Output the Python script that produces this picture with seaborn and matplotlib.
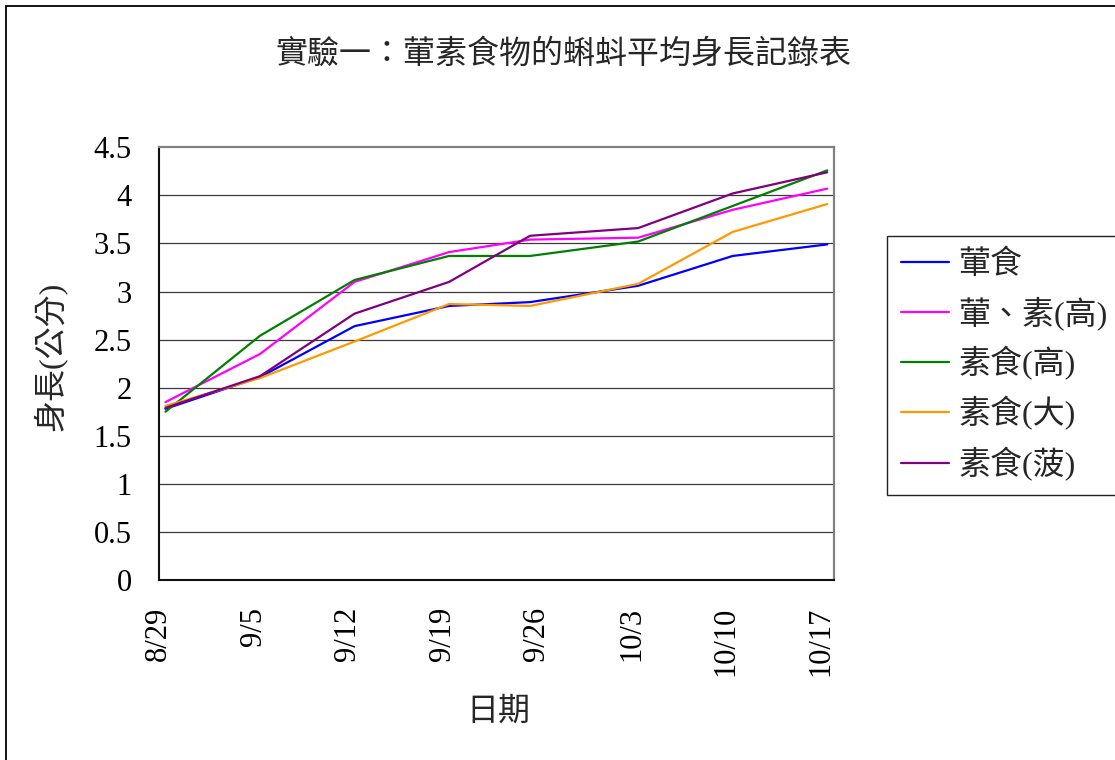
import numpy as np
import pandas as pd
import matplotlib
matplotlib.use("Agg")
import matplotlib.pyplot as plt
from matplotlib.lines import Line2D
from matplotlib.patches import Rectangle
import seaborn as sns

# ---- data ----
dates = ["2009-08-29", "2009-09-05", "2009-09-12", "2009-09-19",
         "2009-09-25", "2009-10-03", "2009-10-10", "2009-10-17"]
tick_dates = ["2009-08-29", "2009-09-05", "2009-09-12", "2009-09-19",
              "2009-09-26", "2009-10-03", "2009-10-10", "2009-10-17"]
tick_labels = ["8/29", "9/5", "9/12", "9/19", "9/26", "10/3", "10/10", "10/17"]

series_names = ["葷食", "葷、素(高)", "素食(高)", "素食(大)", "素食(菠)"]
meat = [1.78, 2.11, 2.64, 2.85, 2.89, 3.06, 3.37, 3.49]
mixed_high = [1.85, 2.35, 3.10, 3.41, 3.54, 3.56, 3.85, 4.07]
veg_high = [1.75, 2.54, 3.12, 3.37, 3.37, 3.52, 3.89, 4.26]
veg_big = [1.81, 2.10, 2.48, 2.87, 2.85, 3.08, 3.62, 3.91]
veg_spinach = [1.79, 2.12, 2.77, 3.10, 3.58, 3.66, 4.02, 4.24]
colors = ["#0000FF", "#FF00FF", "#008000", "#FF9900", "#800080"]

title = "實驗一：葷素食物的蝌蚪平均身長記錄表"
xlabel = "日期"
ylabel = "身長(公分)"

# ---- build table ----
all_vals = [meat, mixed_high, veg_high, veg_big, veg_spinach]
x_dt = pd.to_datetime(dates) + pd.Timedelta(hours=12)  # Excel date axis: point at middle of day
rows = []
for name, vals in zip(series_names, all_vals):
    for d, v in zip(x_dt, vals):
        rows.append({"date": d, "series": name, "value": v})
df = pd.DataFrame(rows)

sns.set_style("white")
plt.rcParams["font.family"] = ["Liberation Serif", "Noto Sans CJK TC", "DejaVu Sans"]
plt.rcParams["axes.unicode_minus"] = False

W, H = 1115, 760
fig = plt.figure(figsize=(W / 100, H / 100), dpi=100)
L, R, T, B = 158.7, 834, 147.3, 580
ax = fig.add_axes([L / W, 1 - B / H, (R - L) / W, (B - T) / H])

palette = dict(zip(series_names, colors))
sns.lineplot(data=df, x="date", y="value", hue="series", hue_order=series_names,
             palette=palette, linewidth=1.6, legend=False, ax=ax, sort=False)

# axes limits & ticks
x0 = pd.Timestamp(tick_dates[0])
ax.set_xlim(x0, x0 + pd.Timedelta(days=50))
ax.set_xticks(pd.to_datetime(tick_dates))
ax.set_xticklabels(tick_labels, rotation=90, fontsize=22, va="top", ha="center")
ax.set_ylim(0, 4.5)
yt = np.arange(0, 4.51, 0.5)
ax.set_yticks(yt)
ax.set_yticklabels([f"{v:g}" for v in yt], fontsize=22)
ax.tick_params(axis="both", direction="in", length=7.5, width=1.0, color="#222222",
               pad=19.5, labelcolor="black")

ax.grid(False)
for v in yt[1:-1]:
    ax.axhline(v, color="#3a3a3a", lw=0.9, zorder=0.5)

for s in ["left", "bottom"]:
    ax.spines[s].set_color("#111111")
    ax.spines[s].set_linewidth(1.5)
for s in ["top", "right"]:
    ax.spines[s].set_color("#808080")
    ax.spines[s].set_linewidth(1.6)

ax.set_xlabel("")
ax.set_ylabel("")
fig.text(498 / W, 1 - 712 / H, xlabel, fontsize=23, ha="center", va="center")
fig.text(51 / W, 1 - 356 / H, ylabel, fontsize=23, ha="center", va="center", rotation=90)
fig.text(563 / W, 1 - 55 / H, title, fontsize=23, ha="center", va="center")

handles = [Line2D([], [], color=c, lw=1.6) for c in colors]
leg = ax.legend(handles, series_names, loc="upper left",
                bbox_to_anchor=(886.7 / W, 1 - 235.7 / H), bbox_transform=fig.transFigure,
                borderaxespad=0, fontsize=23, frameon=True, fancybox=False,
                edgecolor="#222222", framealpha=1, handlelength=1.5, handletextpad=0.3,
                borderpad=0.45, labelspacing=0.5)
leg.get_frame().set_linewidth(1.0)

# outer chart border
fig.add_artist(Rectangle((6 / W, -0.5), 2.0, 1.5 - 6 / H, transform=fig.transFigure,
                         fill=False, ec="black", lw=1.3))

fig.savefig("out.png", dpi=100)
